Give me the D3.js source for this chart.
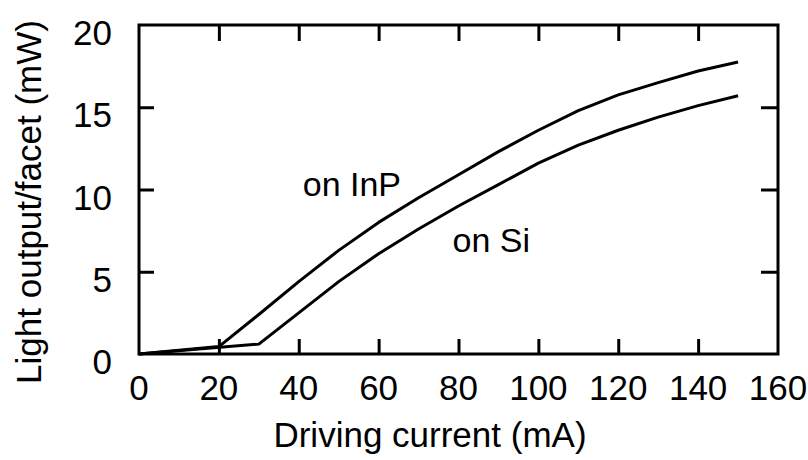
<!DOCTYPE html>
<html><head><meta charset="utf-8">
<script src="https://cdn.jsdelivr.net/npm/d3@7"></script>
<style>body{margin:0;background:#fff}text{font-family:"Liberation Sans",Arial,sans-serif;fill:#000}</style>
</head><body><svg id="c" width="808" height="460"></svg>
<script>
const xTicks = [0, 20, 40, 60, 80, 100, 120, 140, 160];
const yTicks = [0, 5, 10, 15, 20];
const inpCurrent = [0, 20, 30, 40, 50, 60, 70, 80, 90, 100, 110, 120, 130, 140, 150];
const inpPower   = [0, 0.45, 2.4, 4.4, 6.3, 8.0, 9.5, 10.9, 12.3, 13.6, 14.8, 15.75, 16.5, 17.2, 17.75];
const siCurrent  = [0, 30, 40, 50, 60, 70, 80, 90, 100, 110, 120, 130, 140, 150];
const siPower    = [0, 0.6, 2.5, 4.4, 6.1, 7.6, 9.0, 10.3, 11.6, 12.7, 13.6, 14.4, 15.1, 15.7];
const labels = [{text: "on InP", x: 41, y: 9.6}, {text: "on Si", x: 78.5, y: 6.2}];

const svg = d3.select("#c");
const x = d3.scaleLinear().domain([0, 160]).range([139, 778]);
const y = d3.scaleLinear().domain([0, 20]).range([354, 25]);
const inner = [20, 40, 60, 80, 100, 120, 140];
const innerY = [5, 10, 15];

// frame
svg.append("rect").attr("x", x(0)).attr("y", y(20)).attr("width", x(160) - x(0)).attr("height", y(0) - y(20))
  .attr("fill", "none").attr("stroke", "#000").attr("stroke-width", 3);

// axes (ticks inward)
const axStyle = g => { g.select(".domain").remove(); g.selectAll("line").attr("stroke", "#000").attr("stroke-width", 3); };
svg.append("g").attr("transform", `translate(0,${y(0)})`)
  .call(d3.axisBottom(x).tickValues(inner).tickSizeInner(-15).tickFormat("")).call(axStyle);
svg.append("g").attr("transform", `translate(0,${y(20)})`)
  .call(d3.axisTop(x).tickValues(inner).tickSizeInner(-16).tickFormat("")).call(axStyle);
svg.append("g").attr("transform", `translate(${x(0)},0)`)
  .call(d3.axisLeft(y).tickValues(innerY).tickSizeInner(-15).tickFormat("")).call(axStyle);
svg.append("g").attr("transform", `translate(${x(160)},0)`)
  .call(d3.axisRight(y).tickValues(innerY).tickSizeInner(-17).tickFormat("")).call(axStyle);

// tick labels
svg.append("g").selectAll("text").data(xTicks).join("text")
  .attr("x", d => x(d)).attr("y", y(0) + 46).attr("text-anchor", "middle")
  .attr("font-size", 35).text(d => d);
svg.append("g").selectAll("text").data(yTicks).join("text")
  .attr("x", x(0) - 27).attr("y", d => y(d) + 20).attr("text-anchor", "end")
  .attr("font-size", 35).text(d => d);

// axis titles
svg.append("text").attr("x", 430).attr("y", 447).attr("text-anchor", "middle")
  .attr("font-size", 35).text("Driving current (mA)");
svg.append("text").attr("transform", "translate(41,202) rotate(-90)").attr("text-anchor", "middle")
  .attr("font-size", 35).text("Light output/facet (mW)");

// curves
const line = d3.line().x(d => x(d[0])).y(d => y(d[1]));
svg.append("path").datum(d3.zip(inpCurrent, inpPower)).attr("d", line)
  .attr("fill", "none").attr("stroke", "#000").attr("stroke-width", 3).attr("stroke-linejoin", "round");
svg.append("path").datum(d3.zip(siCurrent, siPower)).attr("d", line)
  .attr("fill", "none").attr("stroke", "#000").attr("stroke-width", 3).attr("stroke-linejoin", "round");

// curve labels
svg.append("g").selectAll("text").data(labels).join("text")
  .attr("x", d => x(d.x)).attr("y", d => y(d.y)).attr("font-size", 34).text(d => d.text);
</script></body></html>
